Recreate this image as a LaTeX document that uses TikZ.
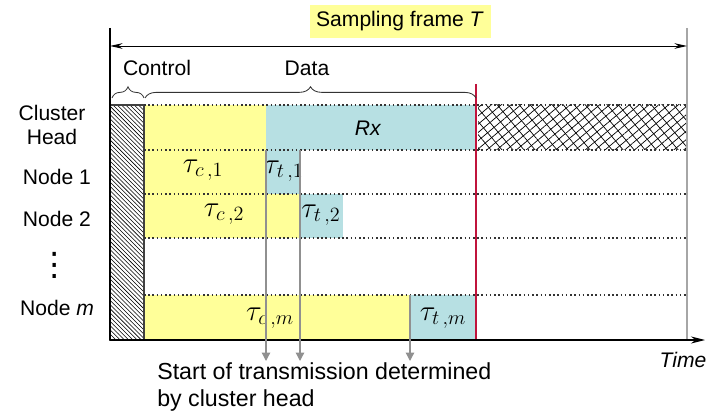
\documentclass[tikz,border=0pt]{standalone}
\usepackage{fontspec}
\setmainfont{Liberation Sans}
\newfontfamily\dotsfont{DejaVu Sans}
\usetikzlibrary{patterns,patterns.meta,decorations.pathreplacing,arrows.meta}
\definecolor{colorctl}{HTML}{FFFF99}
\definecolor{colortx}{HTML}{B7E0E3}
\definecolor{colorend}{HTML}{C0143C}
\definecolor{colorgrid}{HTML}{333333}
\definecolor{colorsel}{HTML}{909090}
\tikzset{
  rowline/.style={colorgrid, line width=1.1pt, dash pattern=on 1.1pt off 1.9pt},
  edgesel/.style={colorsel, line width=0.9pt, -{Triangle[length=6pt,width=6pt]}},
  edgeframe/.style={black, line width=0.7pt, {Stealth[length=9pt,width=4pt]}-{Stealth[length=9pt,width=4pt]}},
  edgetime/.style={black, line width=1pt, -{Stealth[length=10pt,width=5pt]}},
  bracedata/.style={black!80, line width=0.6pt, decorate, decoration={brace, amplitude=8pt}},
  rowlabel/.style={font=\fontsize{15}{18}\selectfont, align=center},
  slotlabel/.style={font=\fontsize{22}{24}\selectfont}
}

\begin{document}
\begin{tikzpicture}[x=0.025cm, y=-0.025cm]
\useasboundingbox (0,0) rectangle (708,418);
% slots
\fill[colorctl] (144,105) rectangle (266,194);
\fill[colorctl] (144,194) rectangle (300,238);
\fill[colorctl] (144,295) rectangle (410,340);
\fill[colortx] (266,105) rectangle (476,150);
\fill[colortx] (266,150) rectangle (300,194);
\fill[colortx] (300,194) rectangle (343,238);
\fill[colortx] (410,295) rectangle (476,340);
\draw[black!75, line width=0.8pt, pattern=north west lines] (110,105) rectangle (144,340);
\fill[pattern={Lines[angle=40,distance=4.5pt,line width=0.5pt]}] (478,105) rectangle (687,150);
\fill[pattern={Lines[angle=-50,distance=6pt,line width=0.5pt]}] (478,105) rectangle (687,150);
\foreach \y in {105,150,194,238,295}
  \draw[rowline] (144,\y) -- (687,\y);
% axes
\coordinate (o) at (110,340);
\coordinate (top) at (110,28);
\coordinate (tend) at (705,340);
\coordinate (fs) at (110,46);
\coordinate (fe) at (687,46);
\coordinate (ftop) at (687,28);
\coordinate (fbot) at (687,340);
\coordinate (rtop) at (476,84);
\coordinate (rbot) at (476,340);
\draw[colorsel!80, line width=1.8pt] (ftop) -- (fbot);
\draw[colorend, line width=1.8pt] (rtop) -- (rbot);
\draw[black, line width=1.6pt] (top) -- (o);
\draw[edgetime] (o) -- (tend);
\draw[edgeframe] (fs) -- (fe);
\node[fill=colorctl, font=\fontsize{15}{18}\selectfont, minimum width=181*0.025cm, minimum height=33*0.025cm, inner sep=0pt] (frame) at (400,21.5) {Sampling frame \textit{T}};
% braces
\coordinate (cl) at (112,98);
\coordinate (cr) at (144,98);
\coordinate (dl) at (145,98);
\coordinate (dr) at (476,98);
\draw[bracedata] (cl) -- (cr);
\draw[bracedata] (dl) -- (dr);
\node[rowlabel] (ctl) at (157,68) {Control};
\node[rowlabel] (data) at (307,68) {Data};
% rows
\node[rowlabel, font=\fontsize{15}{17}\selectfont] (ch) at (52,125) {Cluster\\Head};
\node[rowlabel] (n1) at (57,177) {Node 1};
\node[rowlabel] (n2) at (57,219) {Node 2};
\node[font=\dotsfont\fontsize{23}{23}\selectfont, inner sep=0pt] (nd) at (55,265) {⋮};
\node[rowlabel] (nm) at (57,308) {Node \textit{m}};
% slot labels
\node[rowlabel] (rx) at (368,128) {\textit{Rx}};
\node[slotlabel] (c1) at (203,170) {$\tau_{c\,,1}$};
\node[slotlabel] (t1) at (284,171) {$\tau_{t\,,1}$};
\node[slotlabel] (c2) at (224,214) {$\tau_{c\,,2}$};
\node[slotlabel] (t2) at (321,215) {$\tau_{t\,,2}$};
\node[slotlabel] (cm) at (270,318) {$\tau_{c\,,m}$};
\node[slotlabel] (tm) at (443,318) {$\tau_{t\,,m}$};
% start of transmission
\coordinate (s1) at (266,150);
\coordinate (s2) at (300,150);
\coordinate (sm) at (410,295);
\coordinate (e1) at (266,361);
\coordinate (e2) at (300,361);
\coordinate (em) at (410,361);
\draw[edgesel] (s1) -- (e1);
\draw[edgesel] (s2) -- (e2);
\draw[edgesel] (sm) -- (em);
\node[anchor=north west, align=left, inner sep=0pt, font=\fontsize{16.5}{19.5}\selectfont] (note) at (157,362) {Start of transmission determined\\by cluster head};
\node[rowlabel] (time) at (683,360) {\textit{Time}};
\end{tikzpicture}
\end{document}
